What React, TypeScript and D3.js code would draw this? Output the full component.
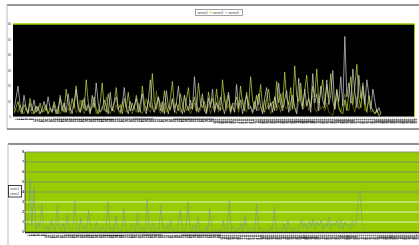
import * as d3 from "d3";

// top chart: three spiky series on black, 0..60
const topCategories = d3.range(1, 201).map(String);
const topYTicks = [0, 10, 20, 30, 40, 50, 60];
const topSeriesNames = ["series1", "series2", "series3"];

const seriesA = [
	5, 12, 20, 8, 3, 14, 6, 2, 9, 4, 11, 3, 7, 2, 5, 10, 4, 13, 6, 3,
	8, 2, 5, 12, 4, 9, 3, 15, 6, 2, 10, 18, 5, 3, 7, 12, 4, 8, 2, 14, 6, 22, 9, 3, 5, 11, 7, 2, 16, 4, 9, 13, 5, 3, 8, 19, 6, 2, 10, 4,
	7, 12, 3, 9, 15, 5, 2, 11, 24, 6, 3, 8, 13, 4, 10, 2, 17, 7, 5, 12, 3, 9, 20, 6, 2, 14, 8, 4, 11, 5, 26, 9, 3, 7, 15, 4, 2, 12, 6, 18,
	3, 9, 5, 13, 7, 2, 10, 16, 4, 8, 3, 21, 6, 11, 2, 9, 14, 5, 7, 3,
	10, 4, 15, 7, 2, 12, 19, 5, 9, 3, 13, 6, 22, 8, 4, 11, 17, 3, 9, 14, 6, 2, 25, 10, 5, 18, 7, 12, 3, 28, 9, 15, 4, 20, 11, 6, 24, 8, 14, 30,
	5, 17, 10, 26, 7, 52, 13, 22, 9, 31, 16, 6, 27, 12, 20, 8, 24, 14, 5, 18, 10, 3, 6, 2,
];
const seriesB = [
	3, 6, 10, 4, 2, 8, 5, 3, 12, 6, 2, 7, 4, 9, 3, 5, 8, 2, 6, 4,
	10, 5, 2, 14, 7, 3, 18, 9, 4, 12, 6, 20, 8, 3, 11, 5, 24, 10, 4, 7, 13, 5, 2, 9, 22, 6, 3, 15, 7, 4, 10, 19, 5, 8, 2, 12, 6, 16, 4, 9,
	5, 14, 7, 3, 20, 9, 4, 11, 6, 28, 10, 5, 13, 8, 3, 17, 7, 2, 12, 23, 6, 9, 4, 15, 8, 3, 11, 19, 5, 7, 13, 4, 22, 9, 6, 10, 3, 16, 8, 12,
	5, 18, 7, 4, 24, 11, 6, 14, 3, 9,
	8, 13, 5, 20, 9, 4, 16, 7, 26, 11, 5, 14, 8, 21, 6, 3, 12, 18, 7, 10, 4, 23, 9, 15, 6, 29, 12, 8, 19, 5, 33, 14, 10, 22, 7, 17, 27, 11, 6, 20,
	13, 31, 9, 16, 24, 8, 21, 12, 28, 10, 5, 18, 7, 3, 2,
	11, 4, 15, 26, 8, 19, 34, 12, 6, 22, 9, 3, 14, 7, 4, 2, 5, 1, 2,
];
const seriesC = [
	2, 5, 3, 8, 4, 2, 6, 3, 5, 2, 4, 7, 3, 2, 5, 3, 6, 2, 4, 3,
	5, 3, 7, 2, 4, 9, 3, 6, 2, 5, 8, 3, 4, 11, 5, 2, 7, 4, 3, 6, 9, 2, 5, 3, 7, 4, 13, 5, 2, 6, 3, 8, 4, 2, 10, 5, 3, 7, 4, 2,
	6, 3, 9, 4, 2, 7, 12, 5, 3, 8, 4, 17, 6, 2, 5, 9, 3, 7, 4, 11, 5, 2, 8, 3, 6, 14, 4, 7, 2, 5, 9, 3, 6, 4, 12, 5, 3, 8, 2, 7,
	4, 10, 3, 6, 5, 15, 4, 8, 2, 6,
	4, 9, 3, 7, 12, 5, 3, 10, 6, 2, 8, 14, 4, 7, 3, 11, 5, 9, 2, 6, 13, 4, 8, 3, 16, 7, 5, 10, 4, 12, 6, 3, 9, 18, 5, 7, 11, 4, 8, 14,
	6, 3, 10, 5, 7, 4, 9, 3, 2, 1,
	8, 12, 5, 3, 9, 15, 6, 4, 11, 7, 3, 13, 5, 8, 16, 4, 6, 10, 3, 5, 2, 4, 1, 2,
];

// bottom chart: one series on green, 0..8
const bottomCategories = d3.range(1, 201).map(String);
const bottomYTicks = [0, 1, 2, 3, 4, 5, 6, 7, 8];
const bottomSeriesNames = ["series1", "series2"];
const seriesD = [
	0.3, 0.8, 5.4, 0.6, 4.5, 0.2, 1.0, 0.4, 2.9, 0.3, 0.1, 0.6, 0.2, 1.2, 0.3, 0.1, 2.6, 0.4, 0.2, 0.9,
	0.1, 1.8, 0.3, 0.2, 0.5, 3.1, 0.2, 0.1, 1.4, 0.3, 0.6, 0.1, 2.2, 0.4, 0.2, 0.1, 1.0, 0.3, 0.2, 0.7,
	0.1, 0.3, 3.0, 0.2, 0.5, 0.1, 1.6, 0.3, 0.2, 0.1, 2.4, 0.4, 0.1, 0.3, 0.8, 0.2, 0.1, 1.9, 0.3, 0.2,
	0.5, 0.1, 3.3, 0.3, 0.2, 0.9, 0.1, 0.4, 0.2, 2.7, 0.3, 0.1, 0.6, 0.2, 1.3, 0.1, 0.3, 0.2, 0.8, 2.1,
	0.2, 0.1, 0.5, 3.0, 0.3, 0.1, 0.7, 0.2, 1.5, 0.1, 0.3, 0.2, 0.6, 0.1, 2.3, 0.4, 0.1, 0.2, 0.3, 0.1,
	0.2, 1.1, 0.1, 0.3, 3.2, 0.2, 0.6, 0.1, 0.4, 0.2, 0.9, 0.1, 1.7, 0.3, 0.1, 0.5, 0.2, 0.1, 2.8, 0.2,
	0.4, 0.1, 0.3, 0.2, 0.1, 0.6, 0.2, 2.5, 0.3, 0.1, 0.4, 0.2, 0.8, 0.1, 1.2, 0.3, 0.1, 0.5, 0.2, 0.1,
	0.6, 1.3, 0.4, 0.9, 0.2, 1.1, 0.5, 1.4, 0.3, 1.0, 0.6, 1.2, 0.2, 0.8, 0.5, 1.5, 0.3, 0.9, 0.7, 1.1,
	0.4, 1.3, 0.2, 1.0, 0.6, 0.8, 0.3, 1.2, 0.5, 0.9, 3.6, 4.1, 0.6, 0.3, 0.2,
];

const GREEN = "#99cc00";

export default function App() {
	// Top scales
	const xTop = d3.scaleLinear().domain([0, topCategories.length - 1]).range([14, 413]);
	const yTop = d3.scaleLinear().domain([0, 60]).range([117, 24]);
	const lineTop = d3
		.line<number>()
		.x((_, i) => xTop(i))
		.y((d) => yTop(d));

	// Bottom scales
	const xBot = d3.scaleLinear().domain([0, bottomCategories.length - 1]).range([26, 415]);
	const yBot = d3.scaleLinear().domain([0, 8]).range([232, 152]);
	const lineBot = d3
		.line<number>()
		.x((_, i) => xBot(i))
		.y((d) => yBot(d));

	const topSeries = [
		{ values: seriesC, color: "#7a7a10" },
		{ values: seriesB, color: "#c6e040" },
		{ values: seriesA, color: "#d4d4d4" },
	];

	return (
		<svg
			width={419}
			height={245}
			style={{ position: "absolute", left: 0, top: 0, fontFamily: "Arial, sans-serif" }}
		>
			<rect width={419} height={245} fill="#fff" />

			{/* top panel frame */}
			<line x1={7} x2={419} y1={5} y2={5} stroke="#333" strokeWidth={1} />
			<line x1={7} x2={7} y1={5} y2={129} stroke="#bbb" strokeWidth={1} />
			<line x1={7} x2={419} y1={129} y2={129} stroke="#333" strokeWidth={1} />

			{/* top legend */}
			<rect x={195.5} y={9.5} width={47} height={6} fill="#fff" stroke="#888" strokeWidth={0.8} />
			{topSeriesNames.map((name, i) => (
				<g key={name}>
					{i > 0 && (
						<line
							x1={197 + i * 15.5 - 3}
							x2={197 + i * 15.5 - 0.5}
							y1={12.5}
							y2={12.5}
							stroke={i === 1 ? "#99cc00" : "#aaa"}
							strokeWidth={0.8}
						/>
					)}
					<text x={197.5 + i * 15.5} y={14} fontSize={3.2} fill="#333">
						{name}
					</text>
				</g>
			))}

			{/* top plot area */}
			<rect x={13} y={24} width={401} height={93} fill="#000" />
			<line x1={13} x2={414.5} y1={24} y2={24} stroke={GREEN} strokeWidth={1.5} />
			<line x1={414.5} x2={414.5} y1={24} y2={117} stroke={GREEN} strokeWidth={1} />
			{topSeries.map((s, i) => (
				<path key={i} d={lineTop(s.values) ?? ""} fill="none" stroke={s.color} strokeWidth={0.7} />
			))}
			<line x1={13} x2={414} y1={117} y2={117} stroke="#ddd" strokeWidth={1} />

			{/* top y ticks */}
			{topYTicks.map((t) => (
				<text key={t} x={11} y={yTop(t) + 1} fontSize={3} textAnchor="end" fill="#333">
					{t}
				</text>
			))}
			{/* top x labels */}
			{topCategories.map((c, i) => (
				<text
					key={c}
					transform={`translate(${xTop(i) + 0.9},${118.5}) rotate(90)`}
					fontSize={3}
					fontWeight="bold"
					fill="#222"
				>
					{c}
				</text>
			))}

			{/* bottom panel frame */}
			<line x1={8} x2={419} y1={144} y2={144} stroke="#222" strokeWidth={1} />
			<line x1={8} x2={8} y1={144} y2={245} stroke="#bbb" strokeWidth={1} />

			{/* bottom plot area */}
			<rect x={25} y={152} width={394} height={80} fill={GREEN} />
			{bottomYTicks.map((t) => (
				<line
					key={t}
					x1={25}
					x2={419}
					y1={yBot(t)}
					y2={yBot(t)}
					stroke={t >= 4 ? "#7f8a6a" : "#f2f7dc"}
					strokeWidth={t === 0 ? 0 : 0.9}
				/>
			))}
			<path d={lineBot(seriesD) ?? ""} fill="none" stroke="#6a95a5" strokeWidth={0.5} />
			<line x1={25} x2={419} y1={232.5} y2={232.5} stroke="#222" strokeWidth={1.5} />
			<line x1={25} x2={25} y1={152} y2={232} stroke="#333" strokeWidth={0.8} />

			{/* bottom y ticks */}
			{bottomYTicks.map((t) => (
				<text key={t} x={24} y={yBot(t) + 1} fontSize={3} textAnchor="end" fontWeight="bold" fill="#111">
					{t}
				</text>
			))}
			{/* bottom x labels */}
			{bottomCategories.map((c, i) => (
				<text
					key={c}
					transform={`translate(${xBot(i) + 0.9},${234.5}) rotate(90)`}
					fontSize={3}
					fontWeight="bold"
					fill="#222"
				>
					{c}
				</text>
			))}

			{/* bottom legend */}
			<rect x={8.5} y={185.5} width={13} height={11.5} fill="#fff" stroke="#111" strokeWidth={0.8} />
			{bottomSeriesNames.map((name, i) => (
				<text key={name} x={10} y={190 + i * 5} fontSize={2.8} fill="#333">
					{name}
				</text>
			))}
		</svg>
	);
}
